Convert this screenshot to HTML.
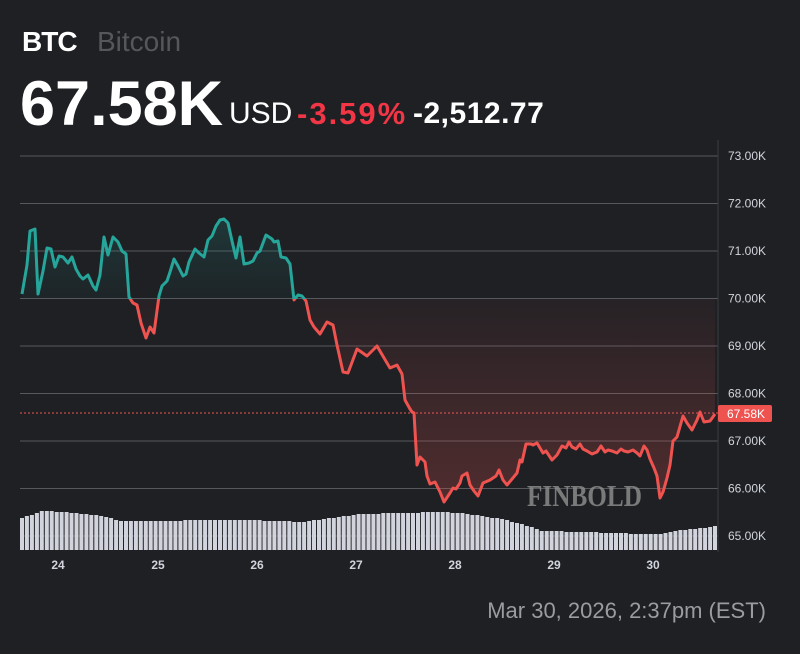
<!DOCTYPE html>
<html><head><meta charset="utf-8"><style>
html,body{margin:0;padding:0;background:#1e2024;}
body{width:800px;height:654px;overflow:hidden;position:relative;font-family:"Liberation Sans",sans-serif;}
.t{position:absolute;white-space:nowrap;}
</style></head><body>
<div class="t" style="left:22px;top:26px;font-size:28px;font-weight:bold;color:#fff;letter-spacing:-1px">BTC</div>
<div class="t" style="left:97px;top:26px;font-size:28px;color:#55575b">Bitcoin</div>
<div class="t" style="left:20px;top:68px;font-size:63px;font-weight:bold;color:#fff;letter-spacing:0px">67.58K</div>
<div class="t" style="left:229px;top:97px;font-size:30px;color:#fff">USD</div>
<div class="t" style="left:297px;top:96px;font-size:31px;font-weight:bold;color:#f23645;letter-spacing:2px">-3.59%</div>
<div class="t" style="left:413px;top:97px;font-size:30px;font-weight:bold;color:#fff;letter-spacing:0.5px">-2,512.77</div>
<div class="t" style="right:34px;top:598px;font-size:22px;color:#9a9ca0">Mar 30, 2026, 2:37pm (EST)</div>
<svg id="s" width="800" height="654" style="position:absolute;left:0;top:0" xmlns="http://www.w3.org/2000/svg">
<defs>
<linearGradient id="gg" gradientUnits="userSpaceOnUse" x1="0" y1="215" x2="0" y2="299"><stop offset="0" stop-color="#26a69a" stop-opacity="0.18"/><stop offset="1" stop-color="#26a69a" stop-opacity="0.03"/></linearGradient>
<linearGradient id="rg" gradientUnits="userSpaceOnUse" x1="0" y1="299" x2="0" y2="510"><stop offset="0" stop-color="#ef5350" stop-opacity="0.04"/><stop offset="1" stop-color="#ef5350" stop-opacity="0.25"/></linearGradient>
<clipPath id="top"><rect x="0" y="0" width="800" height="299"/></clipPath>
<clipPath id="bot"><rect x="0" y="299" width="800" height="400"/></clipPath>
</defs>
<g id="grid" stroke="#55585c" stroke-width="1"></g>
<g id="vol" fill="#d1d4dc"></g>
<path id="fillg" fill="url(#gg)" clip-path="url(#top)"/>
<path id="fillr" fill="url(#rg)" clip-path="url(#bot)"/>
<polyline id="lg" fill="none" stroke="#26a69a" stroke-width="3" stroke-linejoin="round" clip-path="url(#top)"/>
<polyline id="lr" fill="none" stroke="#ef5350" stroke-width="3" stroke-linejoin="round" clip-path="url(#bot)"/>
<line x1="718" y1="140" x2="718" y2="552" stroke="#3a3c40"/>
<line x1="20" y1="413" x2="718" y2="413" stroke="#ef5350" stroke-dasharray="2,2" stroke-width="1"/>
<text x="527" y="506" font-family="Liberation Serif,serif" font-size="31" font-weight="bold" fill="#8a8a8a" opacity="0.85" textLength="115" lengthAdjust="spacingAndGlyphs">FINBOLD</text>
<g id="ax" font-size="12" fill="#d1d4dc" font-family="Liberation Sans,sans-serif"></g>
<rect x="718" y="405" width="54" height="17" rx="2" fill="#ef5350"/>
<text x="727" y="418" font-size="12" fill="#fff">67.58K</text>
<g font-size="12" font-weight="bold" fill="#d1d4dc" text-anchor="middle">
<text x="58" y="569">24</text><text x="158" y="569">25</text><text x="257" y="569">26</text><text x="356" y="569">27</text><text x="455" y="569">28</text><text x="554" y="569">29</text><text x="653" y="569">30</text>
</g>
</svg>
<script>
var ns="http://www.w3.org/2000/svg";
var g=document.getElementById('grid'),ax=document.getElementById('ax');
var labs=["73.00K","72.00K","71.00K","70.00K","69.00K","68.00K","67.00K","66.00K","65.00K"];
for(var i=0;i<9;i++){var y=156+i*47.5;var l=document.createElementNS(ns,'line');l.setAttribute('x1',20);l.setAttribute('x2',718);l.setAttribute('y1',y);l.setAttribute('y2',y);g.appendChild(l);
var t=document.createElementNS(ns,'text');t.setAttribute('x',728);t.setAttribute('y',y+4);t.textContent=labs[i];ax.appendChild(t);}
var prof=[[20,518],[40,511],[60,512],[100,516],[120,521],[160,521],[200,520],[250,520],[300,522],[330,518],[360,514],[400,513],[440,512],[460,513],[500,519],[520,524],[540,531],[580,532],[640,534],[660,534],[680,530],[717,526]];
function pv(x){for(var i=0;i<prof.length-1;i++){if(x<=prof[i+1][0]){var a=prof[i],b=prof[i+1];return a[1]+(b[1]-a[1])*(x-a[0])/(b[0]-a[0]);}}return 526;}
var v=document.getElementById('vol');
for(var x=20;x<716;x+=4.95){var r=document.createElementNS(ns,'rect');var y=Math.round(pv(x));r.setAttribute('x',x.toFixed(1));r.setAttribute('y',y);r.setAttribute('width',4);r.setAttribute('height',550-y);v.appendChild(r);}
var P=[[22,294],[27,265],[30,231],[35,229],[38,294],[43,271],[47,248],[51,249],[55,267],[59,256],[63,257],[68,263],[72,257],[76,269],[80,276],[83,279],[88,275],[93,286],[96,290],[100,275],[104,237],[108,255],[113,237],[118,242],[122,251],[126,254],[129,297],[133,303],[137,305],[141,323],[146,338],[150,327],[154,333],[159,296],[162,286],[167,281],[170,272],[174,259],[178,266],[183,276],[186,274],[189,262],[195,249],[199,253],[204,257],[208,240],[212,236],[216,226],[220,220],[224,219],[228,223],[232,241],[236,258],[240,237],[244,264],[249,263],[253,261],[257,253],[260,251],[266,235],[272,239],[274,242],[278,241],[281,257],[286,258],[290,264],[294,300],[298,295],[302,296],[306,301],[310,320],[314,327],[320,334],[327,322],[333,325],[337,345],[343,372],[348,373],[357,349],[367,356],[377,346],[387,363],[390,368],[397,365],[402,374],[405,400],[410,409],[412,412],[414,413],[417,465],[420,457],[425,462],[427,476],[430,484],[435,482],[440,492],[444,502],[450,493],[453,488],[456,489],[460,483],[462,476],[467,473],[470,485],[474,491],[478,496],[483,483],[490,480],[496,476],[499,470],[503,480],[507,485],[512,479],[517,473],[520,460],[522,462],[526,444],[531,444],[533,445],[537,443],[543,453],[546,451],[552,460],[557,455],[562,446],[566,448],[569,442],[572,447],[576,449],[580,444],[583,449],[587,451],[592,454],[597,452],[601,446],[605,452],[608,450],[612,451],[617,453],[621,449],[624,451],[628,452],[633,450],[637,453],[640,456],[644,446],[647,450],[650,459],[654,468],[657,476],[660,498],[663,492],[667,478],[670,465],[673,441],[677,437],[683,416],[687,423],[692,430],[697,420],[700,412],[704,422],[710,421],[715,414]];
var pts=P.map(function(p){return p.join(',')}).join(' ');
document.getElementById('lg').setAttribute('points',pts);
document.getElementById('lr').setAttribute('points',pts);
var d='M22,299 L'+P.map(function(p){return p.join(',')}).join(' L')+' L715,299 Z';
document.getElementById('fillg').setAttribute('d',d);
document.getElementById('fillr').setAttribute('d',d);
</script>
</body></html>
